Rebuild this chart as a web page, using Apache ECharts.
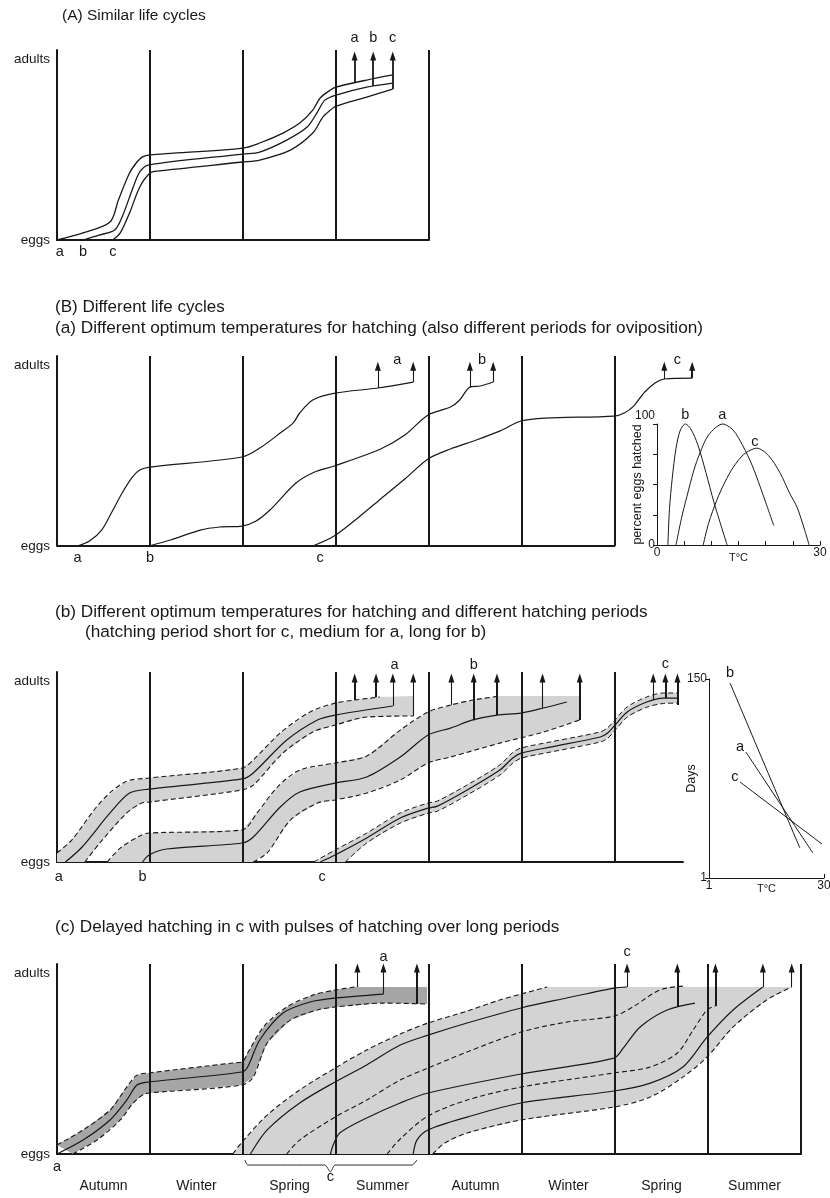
<!DOCTYPE html>
<html><head><meta charset="utf-8">
<script src="https://cdn.jsdelivr.net/npm/echarts@6/dist/echarts.min.js"></script>
<style>html,body{margin:0;padding:0;background:#fff}#c{width:830px;height:1198px}</style>
</head><body><div id="c"></div>
<script>
// ---------- DATA (x = season units from the left axis, y = development 0 eggs .. 100 adults) ----------
const seasons = ['Autumn','Winter','Spring','Summer','Autumn','Winter','Spring','Summer'];

// (A) similar life cycles
const A_a = [[0,0],[0.28,3.9],[0.57,9.9],[0.66,22.1],[0.78,37.0],[0.86,43.1],[0.92,45.9],[1.0,47.0],[2.0,50.8],[2.18,53.6],[2.43,59.1],[2.61,64.6],[2.75,71.8],[2.83,78.5],[2.94,82.9],[3.0,84.5],[3.33,88.4],[3.61,91.2]];
const A_b = [[0.28,0],[0.46,2.8],[0.62,5.5],[0.70,12.7],[0.82,29.3],[0.89,37.6],[0.98,41.4],[2.0,47.5],[2.18,48.6],[2.47,55.2],[2.69,62.4],[2.80,70.7],[2.88,77.3],[3.0,80.1],[3.33,84.5],[3.61,86.7]];
const A_c = [[0.60,0],[0.68,3.9],[0.78,14.9],[0.89,29.3],[1.0,37.0],[1.08,38.1],[2.0,43.1],[2.18,44.2],[2.51,49.7],[2.75,59.1],[2.86,68.0],[2.94,71.8],[3.0,74.0],[3.33,79.0],[3.61,83.4]];
const A_arrowX = [3.2, 3.4, 3.61];
const A_arrowFrom = [86.7, 85.1, 83.4];
const A_arrowTo = 101.7;
const A_labels = [[3.2,111.6,'a'],[3.4,111.6,'b'],[3.61,111.6,'c'],[0.03,-6.6,'a'],[0.28,-6.6,'b'],[0.60,-6.6,'c']];

// (B)(a) different optimum temperatures
const Ba_a = [[0.22,0],[0.35,2.8],[0.48,8.8],[0.59,18.8],[0.70,29.3],[0.81,38.1],[0.89,42.0],[1.0,43.6],[1.99,49.2],[2.18,54.1],[2.40,62.4],[2.54,68.0],[2.61,73.5],[2.75,80.7],[2.99,84.5],[3.45,87.3],[3.83,90.6]];
const Ba_b = [[0.99,0],[1.22,3.3],[1.54,8.8],[1.75,10.5],[1.99,11.0],[2.14,13.8],[2.29,19.9],[2.57,34.8],[2.77,40.9],[2.98,44.2],[3.48,53.6],[3.74,61.3],[3.99,72.4],[4.23,76.8],[4.33,80.7],[4.44,87.8],[4.55,88.4],[4.69,90.6]];
const Ba_c = [[2.75,0],[2.98,5.5],[3.26,16.6],[3.48,26.0],[3.74,37.0],[3.99,48.1],[4.23,53.6],[4.51,58.6],[4.76,63.5],[4.99,69.1],[5.25,70.7],[5.99,71.8],[6.10,73.5],[6.20,77.3],[6.32,85.1],[6.43,90.1],[6.53,92.3],[6.83,92.8]];
const Ba_arrowX = [3.45, 3.83, 4.44, 4.69, 6.53, 6.83];
const Ba_arrowFrom = [87.3, 90.6, 87.8, 90.6, 92.3, 92.8];
const Ba_arrowBold = [0,0,0,0,0,1];
const Ba_arrowTo = 99.4;
const Ba_labels = [[3.66,102.8,'a'],[4.57,102.8,'b'],[6.67,102.8,'c'],[0.22,-6.6,'a'],[1.0,-6.6,'b'],[2.83,-6.6,'c']];

// inset: percent eggs hatched vs temperature
const H_b = [[2.0,0],[2.3,30],[2.8,55],[3.5,80],[4.3,95],[5.2,100],[6.2,96],[7.5,83],[9.0,60],[10.5,35],[12.9,0]];
const H_a = [[3.5,0],[4.5,22],[5.5,40],[6.8,62],[7.9,76],[9.5,91],[12.1,100],[14.0,95],[15.8,82],[17.5,66],[19.0,48],[21.5,16]];
const H_c = [[8.5,0],[9.5,18],[11.0,37],[12.5,52],[14.0,64],[16.0,75],[18.4,80],[20.5,74],[22.6,60],[24.5,42],[25.8,31],[27.2,12],[28.0,0]];
const H_labels = [[5.2,107.4,'b'],[12.0,107.4,'a'],[18.0,85.1,'c']];

// (B)(b) different hatching periods
const Bb_aUp  = [[0,5.0],[0.16,12.2],[0.46,32.6],[0.73,44.2],[0.99,46.4],[1.99,51.9],[2.11,56.4],[2.40,71.3],[2.72,82.9],[2.99,87.8],[3.20,89.5],[3.47,91.2],[3.83,91.7]];
const Bb_aLow = [[0,0],[0.30,0],[0.46,10.5],[0.75,27.1],[0.91,32.6],[0.99,33.1],[1.99,39.8],[2.11,42.5],[2.43,60.2],[2.75,71.8],[2.99,75.7],[3.33,80.1],[3.83,80.7]];
const Bb_aMid = [[0.09,0],[0.27,8.3],[0.57,27.1],[0.78,38.1],[0.99,40.3],[1.99,45.9],[2.11,49.2],[2.47,67.4],[2.80,78.5],[2.99,81.2],[3.61,86.2]];
const Bb_bUp  = [[0.54,0],[0.68,7.7],[0.89,14.4],[0.99,16.0],[1.99,17.7],[2.15,27.1],[2.37,41.4],[2.61,50.8],[2.99,54.7],[3.33,58.6],[3.69,72.9],[3.99,82.9],[4.23,86.7],[4.47,89.5],[4.76,91.7],[5.62,91.7]];
const Bb_bLow = [[2.11,0],[2.26,5.0],[2.51,23.2],[2.80,32.6],[2.99,34.3],[3.33,38.1],[3.69,45.3],[3.99,54.7],[4.23,58.0],[4.76,65.7],[5.23,71.8],[5.62,78.5]];
const Bb_bMid = [[0.92,0],[0.99,3.9],[1.18,7.2],[1.99,10.5],[2.11,13.8],[2.40,30.4],[2.61,38.7],[2.99,43.6],[3.33,47.0],[3.69,58.0],[3.99,70.2],[4.23,74.0],[4.47,78.5],[4.73,81.2],[4.99,82.3],[5.23,85.1],[5.48,88.4]];
const Bb_cUp  = [[2.76,0],[2.99,6.6],[3.33,16.0],[3.69,27.1],[3.99,32.6],[4.09,33.7],[4.41,42.6],[4.76,53.6],[4.90,60.5],[4.99,63.0],[5.30,66.3],[5.84,71.9],[5.92,74.2],[5.99,78.0],[6.13,85.7],[6.34,91.2],[6.52,93.4],[6.67,93.4]];
const Bb_cLow = [[3.10,0],[3.33,10.5],[3.69,21.5],[3.99,27.0],[4.09,28.1],[4.41,37.0],[4.76,48.0],[4.90,54.6],[4.99,57.4],[5.30,60.7],[5.84,66.3],[5.92,68.4],[5.99,72.2],[6.13,80.1],[6.34,85.5],[6.52,87.6],[6.67,87.8]];
const Bb_cMid = [[2.83,0],[2.99,3.9],[3.33,13.3],[3.69,24.3],[3.99,29.8],[4.09,30.9],[4.41,39.8],[4.76,50.8],[4.90,57.5],[4.99,60.2],[5.30,63.5],[5.84,69.1],[5.92,71.3],[5.99,75.1],[6.13,82.9],[6.34,88.4],[6.52,90.6],[6.67,90.6]];
const Bb_arrowX    = [3.20, 3.43, 3.61, 3.83, 4.24, 4.48, 4.73, 5.22, 5.62, 6.41, 6.54, 6.67];
const Bb_arrowFrom = [89.5, 91.0, 86.2, 80.7, 86.7, 78.3, 81.2, 85.1, 78.5, 89.5, 90.6, 86.7];
const Bb_arrowBold = [1,1,0,0,0,1,1,0,1,0,1,1];
const Bb_arrowTo = 101.7;
const Bb_labels = [[3.63,108.8,'a'],[4.48,108.8,'b'],[6.54,109.4,'c'],[0.02,-8.3,'a'],[0.92,-8.3,'b'],[2.85,-8.3,'c']];

// inset: days vs temperature
const D_b = [[6.3,147],[23.9,23.5]];
const D_a = [[10.3,95.3],[27.2,19.7]];
const D_c = [[8.8,72.9],[29.5,26.4]];
const D_labels = [[6.3,154.4,'b'],[8.8,99.1,'a'],[7.5,76.6,'c']];

// (c) delayed hatching
const C_aUp  = [[0,5.0],[0.28,13.3],[0.57,24.3],[0.75,37.0],[0.86,43.6],[0.99,44.8],[1.89,50.3],[1.99,50.8],[2.05,55.8],[2.22,70.2],[2.47,81.2],[2.75,87.8],[2.99,90.6],[3.20,92.3],[3.98,92.3]];
const C_aLow = [[0.17,0],[0.43,7.7],[0.68,18.8],[0.82,28.2],[0.92,32.6],[0.99,33.7],[1.99,38.1],[2.11,42.5],[2.26,61.3],[2.51,74.0],[2.80,79.6],[2.99,81.2],[3.51,83.4],[3.98,82.9]];
const C_aMid = [[0,0],[0.28,7.7],[0.57,18.8],[0.75,29.8],[0.86,38.1],[0.99,39.8],[1.99,45.3],[2.05,48.1],[2.18,63.0],[2.43,77.9],[2.72,84.0],[2.99,86.2],[3.51,88.4]];
const C_cUp  = [[1.89,0],[1.99,6.6],[2.26,21.5],[2.61,35.4],[2.99,47.5],[3.33,57.5],[3.69,66.3],[3.99,72.4],[4.41,79.0],[4.76,85.1],[4.99,88.4],[5.27,92.3],[7.90,92.3]];
const C_cLow = [[4.04,0],[4.17,6.1],[4.41,11.6],[4.99,18.8],[5.99,26.0],[6.38,31.5],[6.73,42.5],[6.99,53.6],[7.27,70.2],[7.63,85.1],[7.90,92.3]];
const C_s1 = [[2.08,0],[2.26,13.3],[2.61,28.2],[2.99,39.8],[3.33,49.2],[3.69,60.2],[3.99,65.7],[4.41,72.4],[4.99,80.7],[5.48,86.2],[5.99,91.7],[6.13,92.3]];
const C_d1 = [[2.47,0],[2.61,7.7],[2.99,20.4],[3.33,29.8],[3.69,40.9],[3.99,47.5],[4.41,56.4],[4.99,67.4],[5.48,72.9],[5.99,76.2],[6.19,81.2],[6.48,90.6],[6.73,92.8]];
const C_s2 = [[2.94,0],[2.97,5.0],[3.04,11.6],[3.33,19.9],[3.69,28.2],[3.99,33.7],[4.99,44.2],[5.99,53.0],[6.09,58.6],[6.27,70.2],[6.56,79.6],[6.86,83.4]];
const C_d2 = [[3.55,0],[3.69,8.3],[3.99,21.0],[4.41,29.8],[4.99,37.0],[5.99,44.8],[6.38,48.1],[6.67,55.8],[6.84,68.5],[6.99,79.6],[7.08,81.8]];
const C_s3 = [[3.83,0],[3.87,7.7],[3.99,13.3],[4.41,20.4],[4.99,28.2],[5.99,34.8],[6.38,39.2],[6.73,48.1],[6.99,64.6],[7.27,79.6],[7.59,92.3]];
const C_brace = [[2.02,-3.3],[2.05,-6.1],[2.88,-6.1],[2.94,-9.9],[2.99,-6.1],[3.82,-6.1],[3.87,-3.3]];
const C_arrowX    = [3.23, 3.51, 3.87, 6.13, 6.67, 7.08, 7.59, 7.90];
const C_arrowFrom = [92.3, 88.4, 82.9, 92.3, 81.2, 81.8, 92.3, 92.3];
const C_arrowBold = [0,0,1,0,1,1,0,0];
const C_arrowTo = 102.8;
const C_labels = [[3.51,108.8,'a'],[6.13,111.6,'c'],[0,-7.2,'a'],[2.94,-12.7,'c']];

// ---------- STYLE ----------
const INK = '#1a1718';
const FONT = "'Liberation Sans', Arial, Helvetica, sans-serif";
const GRAY = '#d3d3d3';
const DARK = '#a6a6a6';
const DASH = [5, 3];

function curve(g, pts, width, dashed) {
  return {type:'line', xAxisIndex:g, yAxisIndex:g, data:pts, smooth:0.3, symbol:'none', showSymbol:false,
    clip:false, silent:true, z:3, lineStyle:{color:INK, width:width || 1.2, type: dashed ? DASH : 'solid'}};
}
function band(g, up, low, color) {
  const pts = up.concat(low.slice().reverse());
  return {type:'custom', xAxisIndex:g, yAxisIndex:g, data:[0], clip:false, silent:true, z:1,
    renderItem: function (params, api) {
      return {type:'polygon', shape:{points: pts.map(p => api.coord(p))}, style:{fill:color}};
    }};
}
function verticals(g, n, baseEnd) {
  const d = []; for (let i = 1; i <= n; i++) d.push({xAxis:i});
  if (baseEnd) d.push([{coord:[0,0]}, {coord:[baseEnd,0]}]);
  return {type:'line', xAxisIndex:g, yAxisIndex:g, data:[[0,0]], symbol:'none', lineStyle:{opacity:0}, silent:true, z:5,
    markLine:{silent:true, animation:false, symbol:['none','none'], label:{show:false},
      lineStyle:{color:INK, width:2, type:'solid'}, data: d}};
}
function arrows(g, xs, from, to, bold, boldW, thinW) {
  return {type:'line', xAxisIndex:g, yAxisIndex:g, data:[[0,0]], symbol:'none', lineStyle:{opacity:0}, silent:true, z:6,
    markLine:{silent:true, animation:false, symbol:['none','triangle'], symbolSize:[6,9], label:{show:false},
      data: xs.map((x, i) => [
        {coord:[x, from[i]], lineStyle:{color:INK, width: bold[i] ? boldW : thinW, type:'solid'}, itemStyle:{color:INK}},
        {coord:[x, to]}
      ])}};
}
function labels(g, items, size) {
  return {type:'custom', xAxisIndex:g, yAxisIndex:g, clip:false, silent:true, z:10,
    data: items.map((d, i) => i),
    renderItem: function (params, api) {
      const d = items[params.dataIndex];
      const p = api.coord([d[0], d[1]]);
      return {type:'text', x:p[0], y:p[1],
        style:{text:d[2], fill:INK, font:(size || 14) + 'px ' + FONT, align:'center', verticalAlign:'middle'}};
    }};
}
function mainY(g) {
  return {gridIndex:g, type:'value', min:0, max:105, interval:100,
    axisLine:{show:true, onZero:false, lineStyle:{color:INK, width:2}}, axisTick:{show:false}, splitLine:{show:false},
    axisLabel:{formatter: v => v === 0 ? 'eggs' : (v === 100 ? 'adults' : ''), color:INK, fontSize:13.5, fontFamily:FONT, margin:7}};
}
function mainX(g, max, withSeasons, hideLine) {
  const ax = {gridIndex:g, type:'value', min:0, max:max,
    axisLine:{show:!hideLine, onZero:false, lineStyle:{color:INK, width:2}}, axisTick:{show:false}, splitLine:{show:false},
    axisLabel:{show:false}};
  if (withSeasons) {
    ax.interval = 0.5;
    ax.axisLabel = {show:true, color:INK, fontSize:14, fontFamily:FONT, margin:25,
      formatter: v => { const k = Math.round(v * 2); return k % 2 === 1 ? seasons[(k - 1) / 2] : ''; }};
  }
  return ax;
}
const tStyle = (s) => ({fontSize:s, fontWeight:'normal', color:INK, fontFamily: FONT});

const option = {
  animation:false,
  backgroundColor:'#fff',
  title:[
    {text:'(A) Similar life cycles', left:62, top:8, padding:0, textStyle:tStyle(15.5)},
    {text:'(B) Different life cycles', left:55, top:299, padding:0, textStyle:tStyle(17)},
    {text:'(a) Different optimum temperatures for hatching (also different periods for oviposition)', left:55, top:320, padding:0, textStyle:tStyle(17.2)},
    {text:'(b) Different optimum temperatures for hatching and different hatching periods', left:55, top:604, padding:0, textStyle:tStyle(17.2)},
    {text:'(hatching period short for c, medium for a, long for b)', left:85, top:624, padding:0, textStyle:tStyle(17.2)},
    {text:'(c) Delayed hatching in c with pulses of hatching over long periods', left:55, top:919, padding:0, textStyle:tStyle(17.2)}
  ],
  grid:[
    {left:57, top:50,  width:372, height:190, containLabel:false, outerBoundsMode:'none'},
    {left:57, top:356, width:651, height:190, containLabel:false, outerBoundsMode:'none'},
    {left:657, top:424, width:163, height:121, containLabel:false, outerBoundsMode:'none'},
    {left:57, top:672, width:626, height:190, containLabel:false, outerBoundsMode:'none'},
    {left:709, top:679, width:115, height:199, containLabel:false, outerBoundsMode:'none'},
    {left:57, top:964, width:744, height:190, containLabel:false, outerBoundsMode:'none'}
  ],
  xAxis:[
    mainX(0, 4),
    mainX(1, 7, false, true),
    {gridIndex:2, type:'value', min:0, max:30, interval:5,
      axisLine:{lineStyle:{color:INK, width:1}}, axisTick:{show:true, inside:true, length:4, lineStyle:{color:INK}},
      splitLine:{show:false},
      axisLabel:{formatter: v => (v === 0 || v === 30) ? String(v) : '', color:INK, fontSize:12, fontFamily:FONT, margin:2},
      name:'T°C', nameLocation:'middle', nameGap:7, nameMoveOverlap:false, nameTextStyle:{color:INK, fontSize:11, fontFamily:FONT}},
    mainX(3, 6.73),
    {gridIndex:4, type:'value', min:1, max:30, interval:29,
      axisLine:{lineStyle:{color:INK, width:1}}, axisTick:{show:true, inside:true, length:4, lineStyle:{color:INK}},
      splitLine:{show:false},
      axisLabel:{formatter: v => (v === 1 || v === 30) ? String(v) : '', color:INK, fontSize:12, fontFamily:FONT, margin:2},
      name:'T°C', nameLocation:'middle', nameGap:5, nameMoveOverlap:false, nameTextStyle:{color:INK, fontSize:11, fontFamily:FONT}},
    mainX(5, 8, true)
  ],
  yAxis:[
    mainY(0),
    mainY(1),
    {gridIndex:2, type:'value', min:0, max:100, interval:25,
      axisLine:{lineStyle:{color:INK, width:1}}, axisTick:{show:true, length:4, lineStyle:{color:INK}},
      splitLine:{show:false},
      axisLabel:{formatter: v => v === 100 ? '{t|100}' : (v === 0 ? '0' : ''), color:INK, fontSize:12, fontFamily:FONT, margin:2,
        rich:{t:{fontSize:12, fontFamily:FONT, color:INK, padding:[0,0,16,0]}}},
      name:'percent eggs hatched', nameLocation:'middle', nameRotate:90, nameGap:13, nameMoveOverlap:false,
      nameTextStyle:{color:INK, fontSize:12.5, fontFamily:FONT}},
    mainY(3),
    {gridIndex:4, type:'value', min:1, max:150, interval:149,
      axisLine:{lineStyle:{color:INK, width:1}}, axisTick:{show:true, length:4, lineStyle:{color:INK}},
      splitLine:{show:false},
      axisLabel:{formatter: v => (v === 1 || v === 150) ? String(v) : '', color:INK, fontSize:12, fontFamily:FONT, margin:2},
      name:'Days', nameLocation:'middle', nameRotate:90, nameGap:11, nameMoveOverlap:false,
      nameTextStyle:{color:INK, fontSize:12.5, fontFamily:FONT}},
    mainY(5)
  ],
  series:[
    // A
    verticals(0, 4),
    curve(0, A_a, 1.3), curve(0, A_b, 1.3), curve(0, A_c, 1.3),
    arrows(0, A_arrowX, A_arrowFrom, A_arrowTo, [1,1,1], 1.8, 1.2),
    labels(0, A_labels, 14.5),
    // B(a)
    verticals(1, 6, 6),
    curve(1, Ba_a), curve(1, Ba_b), curve(1, Ba_c),
    arrows(1, Ba_arrowX, Ba_arrowFrom, Ba_arrowTo, Ba_arrowBold, 2, 1.1),
    labels(1, Ba_labels, 14.5),
    // inset hatching
    curve(2, H_b, 1), curve(2, H_a, 1), curve(2, H_c, 1),
    labels(2, H_labels, 14.5),
    // B(b)
    band(3, Bb_aUp, Bb_aLow, GRAY),
    band(3, Bb_bUp, Bb_bLow, GRAY),
    band(3, Bb_cUp, Bb_cLow, GRAY),
    verticals(3, 6),
    curve(3, Bb_aUp.slice(0, -1), 1.1, true), curve(3, Bb_aLow.slice(1), 1.1, true), curve(3, Bb_aMid, 1.2),
    curve(3, Bb_bUp.slice(0, -1), 1.1, true), curve(3, Bb_bLow, 1.1, true), curve(3, Bb_bMid, 1.2),
    curve(3, Bb_cUp, 1, true), curve(3, Bb_cLow, 1, true), curve(3, Bb_cMid, 1.2),
    arrows(3, Bb_arrowX, Bb_arrowFrom, Bb_arrowTo, Bb_arrowBold, 2, 1.1),
    labels(3, Bb_labels, 14.5),
    // inset days
    curve(4, D_b, 1), curve(4, D_a, 1), curve(4, D_c, 1),
    labels(4, D_labels, 14.5),
    // C
    band(5, C_aUp, C_aLow, DARK),
    band(5, C_cUp, C_cLow, GRAY),
    verticals(5, 8),
    curve(5, C_aUp.slice(0, -1), 1.1, true), curve(5, C_aLow, 1.1, true), curve(5, C_aMid, 1.2),
    curve(5, C_cUp.slice(0, -1), 1.1, true), curve(5, C_cLow, 1.1, true),
    curve(5, C_s1, 1.2), curve(5, C_d1, 1.1, true), curve(5, C_s2, 1.2), curve(5, C_d2, 1.1, true), curve(5, C_s3, 1.2),
    Object.assign(curve(5, C_brace, 0.9), {smooth:0.2}),
    arrows(5, C_arrowX, C_arrowFrom, C_arrowTo, C_arrowBold, 2, 1.1),
    labels(5, C_labels, 14.5)
  ]
};
const chart = echarts.init(document.getElementById('c'), null, {renderer:'canvas'});
chart.setOption(option);
</script></body></html>
